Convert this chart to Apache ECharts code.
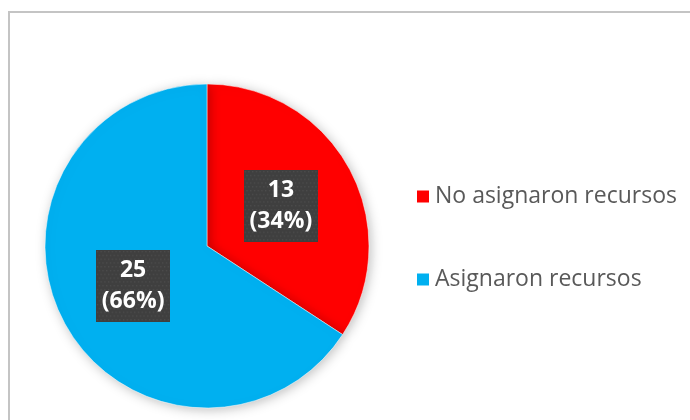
<!DOCTYPE html>
<html><head><meta charset="utf-8">
<script src="https://cdn.jsdelivr.net/npm/echarts@6/dist/echarts.min.js"></script>
<style>html,body{margin:0;padding:0;background:#fff}#c{width:690px;height:420px}</style>
</head><body><div id="c"></div>
<script>
const categories = ['No asignaron recursos', 'Asignaron recursos'];
const values = [13, 25];
const colors = ['#FF0000', '#00B0F0'];

function makeTexture(w, h) {
  const cv = document.createElement('canvas');
  cv.width = w; cv.height = h;
  const ctx = cv.getContext('2d');
  ctx.fillStyle = '#3f3f3f';
  ctx.fillRect(0, 0, w, h);
  ctx.fillStyle = '#4d4d4d';
  for (let y = 1; y < h; y += 4) {
    for (let x = (y % 8 === 1 ? 1 : 3); x < w; x += 4) {
      ctx.fillRect(x, y, 1.5, 1.5);
    }
  }
  return cv;
}
const tex = makeTexture(80, 76);

const chart = echarts.init(document.getElementById('c'));
chart.setOption({
  animation: false,
  color: colors,
  graphic: [{
    type: 'rect', shape: { x: 9, y: 12, width: 720, height: 440 },
    style: { fill: 'none', stroke: '#c4c4c4', lineWidth: 2 }, silent: true
  }],
  legend: {
    orient: 'vertical', left: 410, top: 180, itemWidth: 14, itemHeight: 14,
    itemGap: 60, icon: 'rect',
    textStyle: { color: '#595959', fontSize: 23, fontFamily: 'Open Sans' },
    data: categories
  },
  series: [{
    type: 'pie', center: [207, 246], radius: 162, startAngle: 90,
    percentPrecision: 0,
    data: categories.map((n, i) => ({ name: n, value: values[i] })),
    itemStyle: { borderColor: '#fff', borderWidth: 0.5, shadowBlur: 12, shadowColor: 'rgba(0,0,0,0.25)', shadowOffsetX: 2, shadowOffsetY: 2 },
    label: {
      show: true, position: 'inside', formatter: '{c}\n({d}%)',
      color: '#fff', fontSize: 23, fontWeight: 'bold', fontFamily: 'Open Sans', lineHeight: 31,
      backgroundColor: { image: tex }, padding: [5, 6, 5, 6],
      shadowBlur: 4, shadowColor: 'rgba(0,0,0,0.4)', shadowOffsetX: 1, shadowOffsetY: 2
    },
    labelLine: { show: false },
    emphasis: { disabled: true }
  }]
});
</script></body></html>
